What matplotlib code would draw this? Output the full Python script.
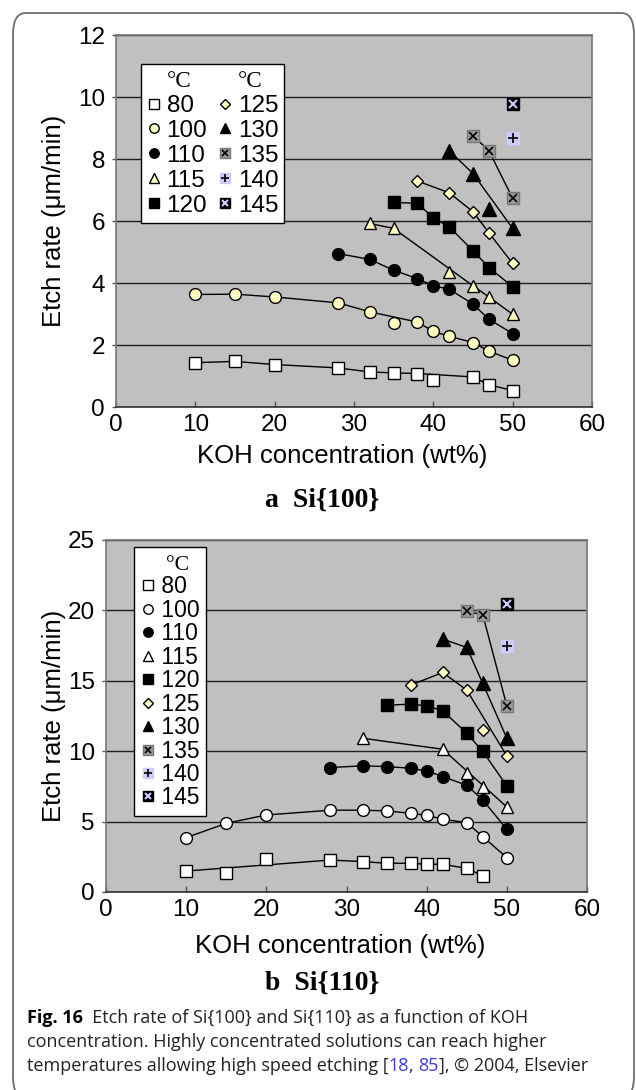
import numpy as np
import matplotlib
matplotlib.use('Agg')
import matplotlib.pyplot as plt
from matplotlib.lines import Line2D
from matplotlib.patches import FancyBboxPatch

# ---------------- data: Si{100} ----------------
X_TICKS = [0, 10, 20, 30, 40, 50, 60]
A_Y_TICKS = [0, 2, 4, 6, 8, 10, 12]
B_Y_TICKS = [0, 5, 10, 15, 20, 25]
TEMPS = ['80', '100', '110', '115', '120', '125', '130', '135', '140', '145']

A80_X = [10, 15, 20, 28, 32, 35, 38, 40, 45, 47, 50]
A80_Y = [1.43, 1.47, 1.37, 1.26, 1.13, 1.10, 1.08, 0.86, 0.97, 0.72, 0.53]
A80_ON = [1, 1, 1, 1, 1, 1, 1, 0, 1, 1, 1]
A100_X = [10, 15, 20, 28, 32, 35, 38, 40, 42, 45, 47, 50]
A100_Y = [3.63, 3.64, 3.55, 3.36, 3.07, 2.71, 2.74, 2.44, 2.28, 2.08, 1.80, 1.51]
A100_ON = [1, 1, 1, 1, 1, 0, 1, 1, 1, 1, 1, 1]
A110_X = [28, 32, 35, 38, 40, 42, 45, 47, 50]
A110_Y = [4.95, 4.76, 4.41, 4.14, 3.91, 3.80, 3.32, 2.83, 2.37]
A110_ON = [1, 1, 1, 1, 1, 1, 1, 1, 1]
A115_X = [32, 35, 42, 45, 47, 50]
A115_Y = [5.92, 5.76, 4.34, 3.91, 3.55, 2.99]
A115_ON = [1, 1, 0, 1, 1, 1]
A120_X = [35, 38, 40, 42, 45, 47, 50]
A120_Y = [6.60, 6.57, 6.10, 5.81, 5.04, 4.50, 3.88]
A120_ON = [1, 1, 1, 1, 1, 1, 1]
A125_X = [38, 42, 45, 47, 50]
A125_Y = [7.29, 6.91, 6.30, 5.62, 4.63]
A125_ON = [1, 1, 1, 1, 1]
A130_X = [42, 45, 47, 50]
A130_Y = [8.27, 7.53, 6.38, 5.76]
A130_ON = [1, 1, 0, 1]
A135_X = [45, 47, 50]
A135_Y = [8.75, 8.27, 6.73]
A135_ON = [1, 1, 1]
A140_X = [50]
A140_Y = [8.67]
A140_ON = [0]
A145_X = [50]
A145_Y = [9.76]
A145_ON = [0]

# ---------------- data: Si{110} ----------------
B80_X = [10, 15, 20, 28, 32, 35, 38, 40, 42, 45, 47]
B80_Y = [1.49, 1.37, 2.37, 2.27, 2.16, 2.04, 2.04, 1.97, 1.97, 1.68, 1.14]
B80_ON = [1, 0, 0, 1, 1, 1, 1, 1, 1, 1, 1]
B100_X = [10, 15, 20, 28, 32, 35, 38, 40, 42, 45, 47, 50]
B100_Y = [3.86, 4.88, 5.47, 5.81, 5.81, 5.76, 5.59, 5.45, 5.17, 4.93, 3.93, 2.44]
B100_ON = [1, 1, 1, 1, 1, 1, 1, 1, 1, 1, 1, 1]
B110_X = [28, 32, 35, 38, 40, 42, 45, 47, 50]
B110_Y = [8.84, 8.96, 8.91, 8.79, 8.60, 8.20, 7.58, 6.54, 4.45]
B110_ON = [1, 1, 1, 1, 1, 1, 1, 1, 1]
B115_X = [32, 42, 45, 47, 50]
B115_Y = [10.92, 10.14, 8.48, 7.46, 6.04]
B115_ON = [1, 1, 0, 0, 1]
B120_X = [35, 38, 40, 42, 45, 47, 50]
B120_Y = [13.27, 13.34, 13.22, 12.87, 11.28, 9.98, 7.54]
B120_ON = [1, 1, 1, 1, 1, 1, 1]
B125_X = [38, 42, 45, 47, 50]
B125_Y = [14.69, 15.59, 14.34, 11.49, 9.67]
B125_ON = [1, 1, 1, 0, 1]
B130_X = [42, 45, 47, 50]
B130_Y = [17.96, 17.37, 14.81, 10.92]
B130_ON = [1, 1, 1, 1]
B135_X = [45, 47, 50]
B135_Y = [19.93, 19.69, 13.22]
B135_ON = [1, 1, 1]
B140_X = [50]
B140_Y = [17.49]
B140_ON = [0]
B145_X = [50]
B145_Y = [20.45]
B145_ON = [0]

A_SERIES = [(A80_X, A80_Y, A80_ON), (A100_X, A100_Y, A100_ON), (A110_X, A110_Y, A110_ON),
            (A115_X, A115_Y, A115_ON), (A120_X, A120_Y, A120_ON), (A125_X, A125_Y, A125_ON),
            (A130_X, A130_Y, A130_ON), (A135_X, A135_Y, A135_ON), (A140_X, A140_Y, A140_ON),
            (A145_X, A145_Y, A145_ON)]
B_SERIES = [(B80_X, B80_Y, B80_ON), (B100_X, B100_Y, B100_ON), (B110_X, B110_Y, B110_ON),
            (B115_X, B115_Y, B115_ON), (B120_X, B120_Y, B120_ON), (B125_X, B125_Y, B125_ON),
            (B130_X, B130_Y, B130_ON), (B135_X, B135_Y, B135_ON), (B140_X, B140_Y, B140_ON),
            (B145_X, B145_Y, B145_ON)]

# ---------------- styles ----------------
W, H = 636, 1090
SANS = 'Liberation Sans'
YEL = '#ffffc4'
LAV = '#ccccff'
GRAY = '#9a9a9a'
TICK_FS = 17.5
LABEL_FS = 18.5


def styles(light):
    return [
        (dict(marker='s', ms=8.5, mfc='white', mec='k', mew=1.0), None),
        (dict(marker='o', ms=8.5, mfc=light, mec='k', mew=1.0), None),
        (dict(marker='o', ms=8.5, mfc='k', mec='k', mew=1.0), None),
        (dict(marker='^', ms=9, mfc=light, mec='k', mew=1.0), None),
        (dict(marker='s', ms=9, mfc='k', mec='k', mew=1.0), None),
        (dict(marker='D', ms=6.5, mfc=YEL, mec='k', mew=1.0), None),
        (dict(marker='^', ms=9.5, mfc='k', mec='k', mew=1.0), None),
        (dict(marker='s', ms=9, mfc=GRAY, mec='#777777', mew=1.0), dict(marker='x', ms=6, mec='k', mew=1.2)),
        (dict(marker='s', ms=8.5, mfc=LAV, mec=LAV, mew=1.0), dict(marker='+', ms=7, mec='k', mew=1.2)),
        (dict(marker='s', ms=9, mfc='k', mec='k', mew=1.0), dict(marker='x', ms=6, mec=LAV, mew=1.5)),
    ]


def px(x, y):
    return x / W, 1 - y / H


fig = plt.figure(figsize=(W / 100, H / 100), dpi=100)
fig.patch.set_facecolor('white')

border = FancyBboxPatch(px(13, 1098), (634 - 13) / W, (1098 - 13) / H,
                        boxstyle='round,pad=0,rounding_size=0.02',
                        transform=fig.transFigure, fill=False, ec='#6e6e6e', lw=1.3)
fig.patches.append(border)


def make_axes(rect_px, yticks, series, style_list, cfg):
    l, t, r, b = rect_px
    ax = fig.add_axes([l / W, 1 - b / H, (r - l) / W, (b - t) / H])
    ax.set_facecolor('#c0c0c0')
    ax.set_xlim(0, 60)
    ax.set_ylim(yticks[0], yticks[-1])
    ax.set_xticks(X_TICKS)
    ax.set_yticks(yticks)
    ax.yaxis.grid(True, color='#202020', lw=1.0)
    ax.set_axisbelow(True)
    for s in ['top', 'right', 'left']:
        ax.spines[s].set_color('#777777')
        ax.spines[s].set_linewidth(1.2)
    ax.spines['bottom'].set_color('#303030')
    ax.spines['bottom'].set_linewidth(1.2)
    ax.tick_params(axis='x', direction='in', length=4, width=1, color='#555555',
                   labelsize=TICK_FS, pad=5)
    ax.tick_params(axis='y', direction='out', length=3, width=1, color='#555555',
                   labelsize=TICK_FS, pad=5)
    for lab in ax.get_xticklabels() + ax.get_yticklabels():
        lab.set_fontfamily(SANS)

    handles = []
    for (xs, ys, on), (st, ov) in zip(series, style_list):
        xs = np.asarray(xs, float)
        ys = np.asarray(ys, float)
        m = np.asarray(on, bool)
        if m.sum() > 1:
            ax.plot(xs[m], ys[m], '-', color='k', lw=1.0, zorder=2)
        ax.plot(xs, ys, ls='none', zorder=3, **st)
        if ov is not None:
            ax.plot(xs, ys, ls='none', zorder=4, **ov)
        h1 = Line2D([], [], ls='none', **{**st, 'ms': st['ms'] * cfg['mscale']})
        if ov is not None:
            h2 = Line2D([], [], ls='none', **{**ov, 'ms': ov['ms'] * cfg['mscale']})
            handles.append((h1, h2))
        else:
            handles.append(h1)

    hdr = Line2D([], [], ls='none')
    if cfg['ncol'] == 2:
        hs = [hdr] + handles[:5] + [hdr] + handles[5:]
        ls = ['\u00b0C'] + TEMPS[:5] + ['\u00b0C'] + TEMPS[5:]
    else:
        hs = [hdr] + handles
        ls = ['  \u00b0C'] + [' ' + t for t in TEMPS]
    leg = ax.legend(hs, ls, ncol=cfg['ncol'], loc='upper left',
                    bbox_to_anchor=cfg['anchor'], borderaxespad=0,
                    fancybox=False, framealpha=1, edgecolor='k',
                    prop={'family': SANS, 'size': cfg['size']},
                    handlelength=cfg['hl'], handletextpad=cfg['htp'],
                    labelspacing=cfg['lsp'], columnspacing=cfg['csp'],
                    borderpad=cfg['bp'])
    leg.get_frame().set_linewidth(1.0)
    for txt in leg.get_texts():
        if 'C' in txt.get_text():
            txt.set_fontfamily('Liberation Serif')
            txt.set_fontsize(cfg['size'] * 0.95)
    return ax


ax1 = make_axes((116, 35, 592, 407), A_Y_TICKS, A_SERIES, styles(YEL),
                dict(ncol=2, anchor=((141 - 116) / 476, (407 - 64) / 372), size=17.5,
                     hl=0.6, htp=0.2, lsp=0.12, csp=0.45, bp=0.25, mscale=0.8))
ax2 = make_axes((106, 540, 587, 892), B_Y_TICKS, B_SERIES, styles('white'),
                dict(ncol=1, anchor=((134 - 106) / 481, (892 - 547) / 352), size=16.5,
                     hl=0.6, htp=0.0, lsp=0.02, csp=0.3, bp=0.3, mscale=0.8))

fig.text(*px(54, 221), 'Etch rate (\u03bcm/min)', rotation=90, ha='center', va='center',
         family=SANS, fontsize=LABEL_FS)
fig.text(*px(54, 716), 'Etch rate (\u03bcm/min)', rotation=90, ha='center', va='center',
         family=SANS, fontsize=LABEL_FS)
fig.text(*px(342, 456), 'KOH concentration (wt%)', ha='center', va='center',
         family=SANS, fontsize=LABEL_FS)
fig.text(*px(340, 946), 'KOH concentration (wt%)', ha='center', va='center',
         family=SANS, fontsize=LABEL_FS)
fig.text(*px(322, 500), 'a  Si{100}', ha='center', va='center',
         family='Liberation Serif', fontweight='bold', fontsize=20)
fig.text(*px(322, 983), 'b  Si{110}', ha='center', va='center',
         family='Liberation Serif', fontweight='bold', fontsize=20)

CAP = 'Open Sans'
CFS = 13.0
renderer = fig.canvas.get_renderer()


def seq(x0, y, parts):
    x = x0
    for txt, kw in parts:
        t = fig.text(x / W, 1 - y / H, txt, ha='left', va='center', family=CAP,
                     fontsize=CFS, **kw)
        bb = t.get_window_extent(renderer)
        x = bb.x1


seq(27, 1018, [('Fig. 16', dict(fontweight='bold')),
               ('  Etch rate of Si{100} and Si{110} as a function of KOH', dict(color='#222222'))])
seq(27, 1042, [('concentration. Highly concentrated solutions can reach higher', dict(color='#222222'))])
seq(27, 1066, [('temperatures allowing high speed etching [', dict(color='#222222')),
               ('18', dict(color='#3a3ad0')),
               (', ', dict(color='#222222')),
               ('85', dict(color='#3a3ad0')),
               ('], \u00a9 2004, Elsevier', dict(color='#222222'))])

fig.savefig('out.png', dpi=100)
